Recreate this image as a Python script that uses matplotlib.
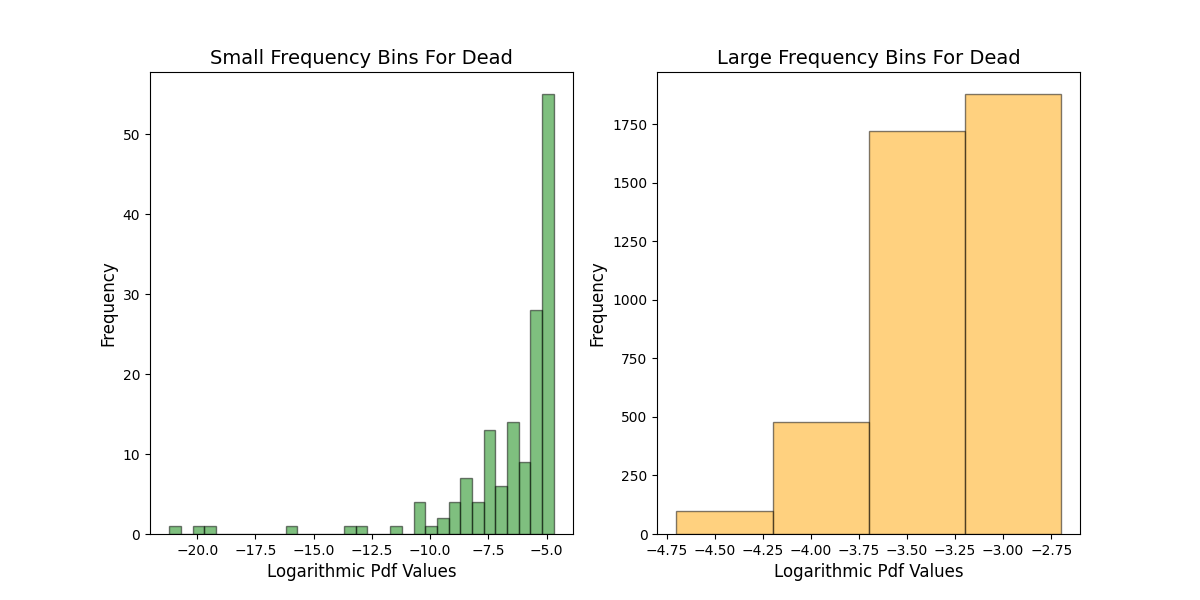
import numpy as np
import matplotlib
matplotlib.use("Agg")
import matplotlib.pyplot as plt

small_edges = np.round(np.arange(-21.2, -4.69, 0.5), 2)
small_counts = [1,0,1,1,0,0,0,0,0,0,1,0,0,0,0,1,1,0,0,1,0,4,1,2,4,7,4,13,6,14,9,28,55]
large_edges = [-4.7, -4.2, -3.7, -3.2, -2.7]
large_counts = [100, 480, 1720, 1880]

fig, axes = plt.subplots(1, 2, figsize=(12, 6), dpi=100)
centers = (small_edges[:-1] + small_edges[1:]) / 2
axes[0].hist(centers, bins=small_edges, weights=small_counts, color="green", alpha=0.5, edgecolor="black")
axes[0].set_title("Small Frequency Bins For Dead", fontsize=14)
lc = [(large_edges[i] + large_edges[i+1]) / 2 for i in range(4)]
axes[1].hist(lc, bins=large_edges, weights=large_counts, color="orange", alpha=0.5, edgecolor="black")
axes[1].set_title("Large Frequency Bins For Dead", fontsize=14)
for ax in axes:
    ax.set_xlabel("Logarithmic Pdf Values", fontsize=12)
    ax.set_ylabel("Frequency", fontsize=12)
fig.savefig("out.png")
